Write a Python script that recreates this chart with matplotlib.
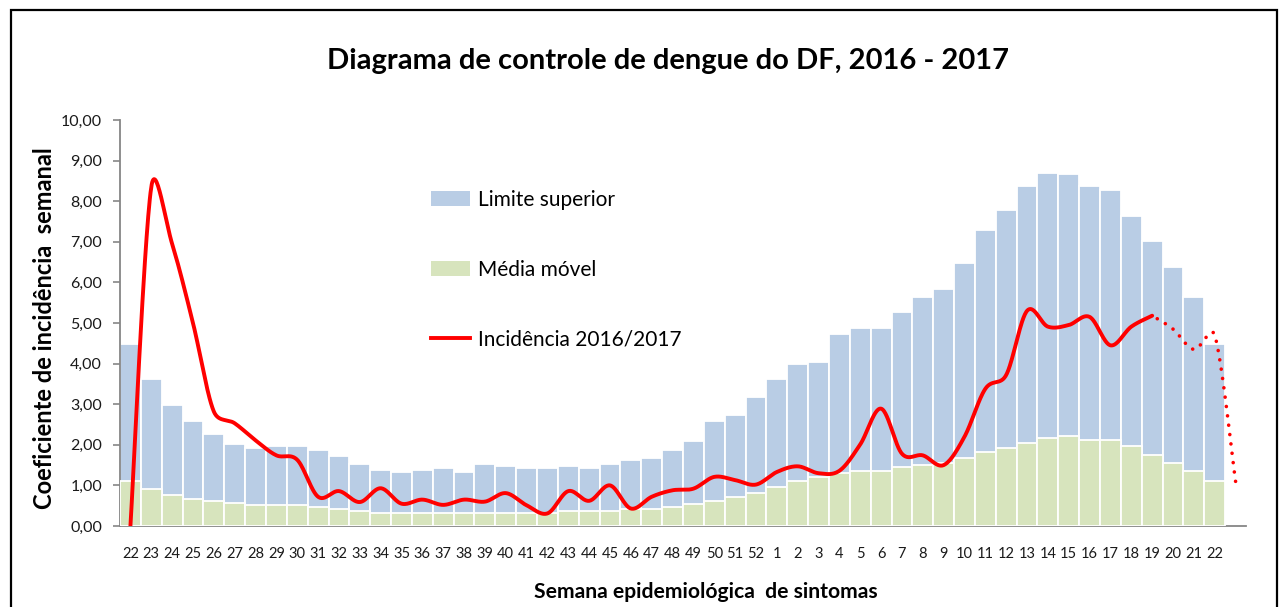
import numpy as np
import matplotlib
matplotlib.use("Agg")
import matplotlib.pyplot as plt
from matplotlib.patches import Patch, Rectangle
from matplotlib.lines import Line2D

# ---------------- data ----------------
week_labels = [str(w) for w in range(22, 53)] + [str(w) for w in range(1, 23)]

limite_superior = [4.48, 3.61, 2.98, 2.59, 2.26, 2.01, 1.91, 1.96, 1.96, 1.86,
                   1.72, 1.52, 1.37, 1.32, 1.37, 1.42, 1.32, 1.52, 1.47, 1.42,
                   1.42, 1.47, 1.42, 1.52, 1.62, 1.67, 1.86, 2.10, 2.59, 2.73,
                   3.17, 3.61, 3.99, 4.04, 4.72, 4.87, 4.87, 5.26, 5.65, 5.84,
                   6.47, 7.29, 7.78, 8.37, 8.70, 8.66, 8.37, 8.27, 7.63, 7.01,
                   6.38, 5.65, 4.49]

media_movel = [1.11, 0.90, 0.76, 0.66, 0.61, 0.56, 0.51, 0.51, 0.51, 0.46,
               0.41, 0.36, 0.31, 0.31, 0.31, 0.31, 0.31, 0.31, 0.31, 0.31,
               0.31, 0.36, 0.36, 0.36, 0.41, 0.41, 0.48, 0.55, 0.61, 0.72,
               0.81, 0.96, 1.10, 1.20, 1.30, 1.35, 1.35, 1.45, 1.50, 1.54,
               1.68, 1.82, 1.92, 2.05, 2.16, 2.21, 2.11, 2.11, 1.97, 1.74,
               1.54, 1.36, 1.10]

# Incidence, weeks 22/2016 .. 19/2017 (solid line)
incidencia = [0.00, 8.35, 6.95, 5.00, 2.82, 2.53, 2.11, 1.74, 1.63, 0.72,
              0.86, 0.59, 0.93, 0.55, 0.65, 0.52, 0.65, 0.60, 0.81, 0.51,
              0.31, 0.86, 0.62, 1.00, 0.43, 0.72, 0.88, 0.92, 1.21, 1.13,
              1.02, 1.33, 1.47, 1.30, 1.36, 2.01, 2.89, 1.78, 1.74, 1.50,
              2.20, 3.38, 3.72, 5.30, 4.91, 4.95, 5.15, 4.45, 4.91, 5.18]

# Incidence, weeks 19..22/2017 and the trailing point (dotted line)
incidencia_provisoria = [5.18, 4.85, 4.35, 4.70, 1.10]

y_ticks = [0, 1, 2, 3, 4, 5, 6, 7, 8, 9, 10]

PX_PER_X = 20.85   # screen pixels per category
PX_PER_Y = 40.6    # screen pixels per unit of y


def smooth_curve(x, y, n=30):
    """Excel-like smoothed line through the given points (Bezier with
    control points limited to half of the segment length, in screen space)."""
    pts = np.column_stack([np.asarray(x, float) * PX_PER_X,
                           np.asarray(y, float) * PX_PER_Y])
    m = len(pts)
    t = np.linspace(0, 1, n)[:, None]
    out = []
    for i in range(m - 1):
        p0 = pts[i - 1] if i > 0 else pts[i]
        p1 = pts[i]
        p2 = pts[i + 1]
        p3 = pts[i + 2] if i + 2 < m else pts[i + 1]
        d12 = np.hypot(*(p2 - p1))
        t1 = p2 - p0
        t2 = p3 - p1
        d02 = np.hypot(*t1)
        d13 = np.hypot(*t2)
        f1 = 1 / 6.0
        f2 = 1 / 6.0
        if d02 > 0 and d02 / 6.0 > d12 / 2.0:
            f1 = d12 / 2.0 / d02
        if d13 > 0 and d13 / 6.0 > d12 / 2.0:
            f2 = d12 / 2.0 / d13
        c1 = p1 + f1 * t1
        c2 = p2 - f2 * t2
        seg = ((1 - t) ** 3) * p1 + 3 * ((1 - t) ** 2) * t * c1 \
            + 3 * (1 - t) * t ** 2 * c2 + t ** 3 * p2
        out.append(seg if i == 0 else seg[1:])
    seg = np.vstack(out)
    return seg[:, 0] / PX_PER_X, seg[:, 1] / PX_PER_Y


# ---------------- figure ----------------
plt.rcParams['font.family'] = ['Lato', 'DejaVu Sans']

W, H = 1284, 607
fig = plt.figure(figsize=(W / 100, H / 100), dpi=100)
ax = fig.add_axes([120 / W, 1 - 526 / H, (1246 - 120) / W, (526 - 120) / H])

blue = '#B9CDE5'
green = '#D7E4BD'
red = '#FF0000'
gray = '#868686'

x_bars = np.arange(len(week_labels))
ax.bar(x_bars, limite_superior, width=1.0, color=blue, edgecolor='white',
       linewidth=1.3, zorder=2)
ax.bar(x_bars, media_movel, width=1.0, color=green, edgecolor='white',
       linewidth=1.3, zorder=3)

x_inc = np.arange(len(incidencia))
sx, sy = smooth_curve(x_inc, incidencia)
ax.plot(sx, sy, color=red, lw=2.8, solid_capstyle='round', zorder=5)

x_prov = np.arange(len(incidencia) - 1, len(incidencia) - 1 + len(incidencia_provisoria))
px, py = smooth_curve(x_prov, incidencia_provisoria)
# drawn from the last point backwards so that a dot sits on the final value
ax.plot(px[::-1], py[::-1], color=red, lw=2.6, linestyle=(0, (0.01, 2.6)),
        dash_capstyle='round', zorder=5)

ax.set_xlim(-0.5, len(week_labels) + 0.5)
ax.set_ylim(0, 10)
ax.set_yticks(y_ticks)
ax.set_yticklabels([f"{v:.2f}".replace('.', ',') for v in y_ticks])
ax.set_xticks(x_bars)
ax.set_xticklabels(week_labels)

for s in ['top', 'right']:
    ax.spines[s].set_visible(False)
for s in ['left', 'bottom']:
    ax.spines[s].set_color(gray)
    ax.spines[s].set_linewidth(1.3)

ax.tick_params(axis='y', direction='out', length=5, width=1.2, color=gray,
               labelsize=11.5, pad=8, labelcolor='#1a1a1a')
ax.tick_params(axis='x', length=0, labelsize=10.5, pad=15, labelcolor='#1a1a1a')

# legend
handles = [Patch(facecolor=blue, edgecolor='none'),
           Patch(facecolor=green, edgecolor='none'),
           Line2D([0], [0], color=red, lw=2.8)]
labels = ['Limite superior', 'Média móvel', 'Incidência 2016/2017']
ax.legend(handles, labels, loc='upper left', bbox_to_anchor=(431 / W, 1 - 190 / H),
          bbox_transform=fig.transFigure, frameon=False, fontsize=15,
          handlelength=1.85, handleheight=0.7, handletextpad=0.4,
          labelspacing=2.38, borderpad=0, borderaxespad=0)

# titles
fig.text(668 / W, 1 - 61 / H, 'Diagrama de controle de dengue do DF, 2016 - 2017',
         ha='center', va='center', fontsize=21, fontweight='bold', color='black')
fig.text(706 / W, 1 - 592 / H, 'Semana epidemiológica  de sintomas',
         ha='center', va='center', fontsize=15.2, fontweight='bold', color='black')
fig.text(45 / W, 1 - 328 / H, 'Coeficiente de incidência  semanal', rotation=90,
         ha='center', va='center', fontsize=17, fontweight='bold', color='black')

# outer frame (bottom edge falls outside the picture)
fig.patches.append(Rectangle((11 / W, -0.1), (1277 - 11) / W, (H - 10) / H + 0.1,
                             transform=fig.transFigure, fill=False,
                             edgecolor='black', linewidth=1.6))

fig.savefig('out.png', dpi=100)
